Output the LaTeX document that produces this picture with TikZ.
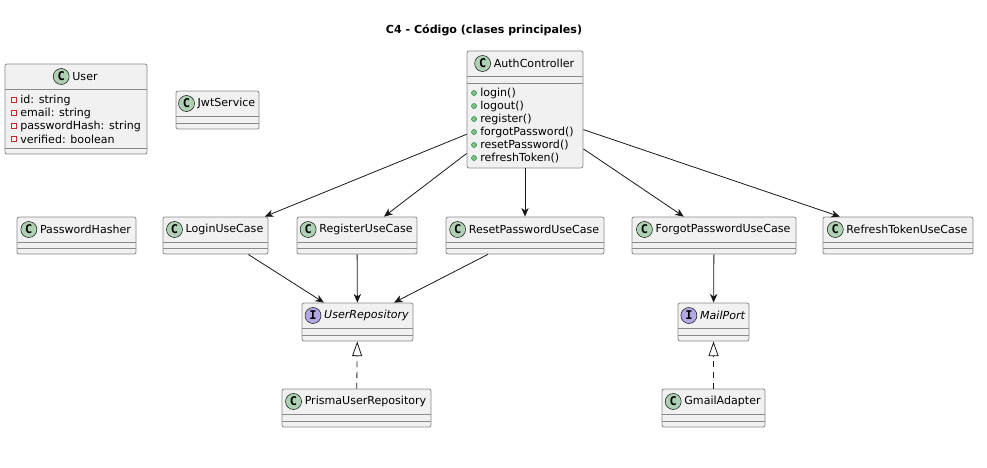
\documentclass[tikz,border=0pt]{standalone}
\usepackage{fontspec}
\setmainfont{DejaVu Sans}
\newfontfamily\iconfont{DejaVu Sans Mono}
\usetikzlibrary{arrows.meta,positioning,fit}

\definecolor{boxfill}{HTML}{F1F1F1}
\definecolor{boxline}{HTML}{8A8A8A}
\definecolor{lineclr}{HTML}{181818}
\definecolor{classfill}{HTML}{ADD1B2}
\definecolor{ifacefill}{HTML}{B4A7E5}
\definecolor{privred}{HTML}{C82930}
\definecolor{pubfill}{HTML}{84BE84}
\definecolor{publine}{HTML}{038048}

\tikzset{
  classbox/.style={draw=boxline, fill=boxfill, rounded corners=1.5pt, line width=0.6pt, inner sep=0pt},
  sepline/.style={draw=boxline, line width=0.6pt},
  iconC/.style={circle, draw=lineclr, line width=0.4pt, fill=classfill, minimum size=12pt, inner sep=0pt,
    font=\iconfont\bfseries\fontsize{9}{9}\selectfont},
  iconI/.style={iconC, fill=ifacefill},
  txt/.style={font=\fontsize{8.3}{10}\selectfont, inner sep=0pt},
  member/.style={txt, anchor=west},
  priv/.style={draw=privred, line width=0.5pt, minimum size=3.6pt, inner sep=0pt},
  pub/.style={circle, draw=publine, fill=pubfill, line width=0.3pt, minimum size=3.8pt, inner sep=0pt},
  dep/.style={draw=lineclr, line width=0.6pt, -{Stealth[length=6.5pt,width=5.5pt,inset=2pt]}},
  realize/.style={draw=lineclr, line width=0.6pt, dash pattern=on 4.5pt off 3.5pt,
    -{Triangle[open,length=11pt,width=7.5pt]}}
}

% class box: name, left, right, top, bottom, label, icon letter, y of 2nd separator
\newcommand\umlclass[8]{%
  \node[classbox, fit={(#2,#4) (#3,#5)}] (#1) {};
  \node[txt] (#1name) at ({(#2+#3)/2+9},#4+12.5) {#6};
  \node[icon#7, left=2pt of #1name] (#1icon) {#7};
  \draw[sepline] (#2,#4+25) -- (#3,#4+25);
  \draw[sepline] (#2,#8) -- (#3,#8);
}

\begin{document}
\begin{tikzpicture}[x=0.75pt, y=-0.75pt]
    \useasboundingbox (0,0) rectangle (987,467);
    \node[txt, font=\bfseries\fontsize{8.3}{10}\selectfont] (title) at (484,30) {C4 - Código (clases principales)};

    % top row
    \umlclass{user}{5}{147}{64}{154}{User}{C}{148}
    \foreach \m [count=\i] in {id: string, email: string, passwordHash: string, verified: boolean} {
        \node[priv] (attr\i icon) at (14,87+13*\i) {};
        \node[member] (attr\i) at (20,87+13*\i) {\m};
    }
    \umlclass{jwt}{176}{259}{91}{129}{JwtService}{C}{123}
    \umlclass{auth}{467}{583}{51}{168}{AuthController}{C}{83}
    \foreach \m [count=\i] in {login(), logout(), register(), forgotPassword(), resetPassword(), refreshToken()} {
        \node[pub] (op\i icon) at (474,80+13*\i) {};
        \node[member] (op\i) at (480,80+13*\i) {\m};
    }

    % use cases
    \umlclass{hasher}{17}{136}{217}{254}{PasswordHasher}{C}{248}
    \umlclass{login}{163}{268}{217}{254}{LoginUseCase}{C}{248}
    \umlclass{reg}{297}{417}{217}{254}{RegisterUseCase}{C}{248}
    \umlclass{reset}{446}{604}{217}{254}{ResetPasswordUseCase}{C}{248}
    \umlclass{forgot}{632}{796}{217}{254}{ForgotPasswordUseCase}{C}{248}
    \umlclass{refresh}{823}{973}{217}{254}{RefreshTokenUseCase}{C}{248}

    % ports and adapters
    \umlclass{ur}{302}{413}{303}{341}{\itshape UserRepository}{I}{335}
    \umlclass{mail}{678}{749}{303}{341}{\itshape MailPort}{I}{335}
    \umlclass{prisma}{282}{431}{389}{427}{PrismaUserRepository}{C}{421}
    \umlclass{gmail}{662}{765}{389}{427}{GmailAdapter}{C}{421}

    \draw[dep] (auth.203) -- (login.21);
    \draw[dep] (auth.217) -- (reg.35);
    \draw[dep] (auth) -- (reset);
    \draw[dep] (auth.-34) -- (forgot.148);
    \draw[dep] (auth.-19) -- (refresh.162);
    \draw[dep] (login.-30) -- (ur.150);
    \draw[dep] (reg) -- (ur);
    \draw[dep] (reset.207) -- (ur.28);
    \draw[dep] (forgot) -- (mail);
    \draw[realize] (prisma) -- (ur);
    \draw[realize] (gmail) -- (mail);
\end{tikzpicture}
\end{document}
